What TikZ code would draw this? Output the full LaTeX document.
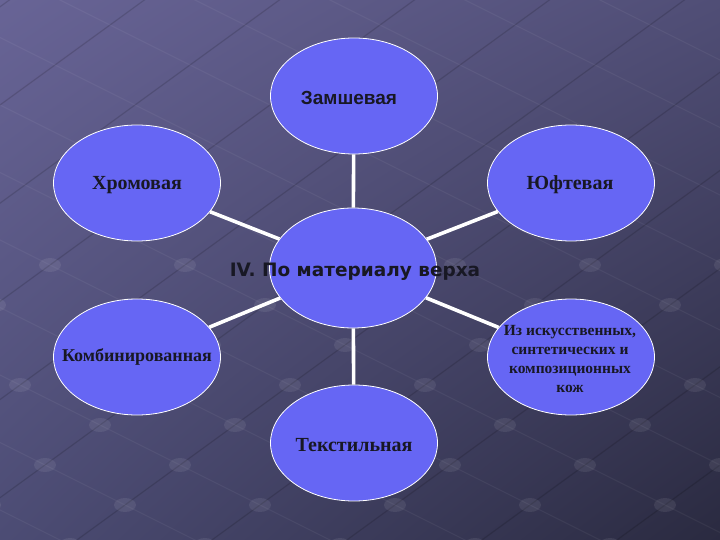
\documentclass[tikz,border=0pt]{standalone}
\usepackage{fontspec}
\setmainfont{Liberation Serif}
\setsansfont{Liberation Sans}
\newfontfamily\roundfont{DejaVu Sans}
\usetikzlibrary{shapes.geometric, shadings}

\pgfdeclarelayer{edges}
\pgfsetlayers{edges,main}

\definecolor{bubblefill}{RGB}{102,102,244}
\definecolor{inkdark}{RGB}{24,24,36}
\definecolor{bgUL}{RGB}{104,100,150}
\definecolor{bgUR}{RGB}{80,78,118}
\definecolor{bgLL}{RGB}{76,76,116}
\definecolor{bgLR}{RGB}{42,42,64}

\begin{document}
\begin{tikzpicture}[x=1pt, y=-1pt,
    bubble/.style={ellipse, draw=white, line width=0.8pt, fill=bubblefill,
        minimum width=167pt, minimum height=116pt, inner sep=0},
    serifbold/.style={font=\bfseries\fontsize{20}{23}\selectfont, text=inkdark},
    sansbold/.style={font=\sffamily\bfseries\fontsize{19}{22}\selectfont, text=inkdark},
    link/.style={draw=white, line width=3.6pt}
]

\useasboundingbox (0,0) rectangle (720,540);

% background with the lattice
\begin{pgfonlayer}{edges}
\shade[upper left=bgUL, upper right=bgUR, lower left=bgLL, lower right=bgLR]
    (0,0) rectangle (720,540);
\begin{scope}
\clip (0,0) rectangle (720,540);
\foreach \j in {-4,...,12}{
    \draw[white, opacity=0.05, line width=1pt]
        ({100-7*80+\j*55}, {425-7*40-\j*40}) -- ({100+7*80+\j*55}, {425+7*40-\j*40});
}
\foreach \i in {-7,...,7}{
    \draw[black, opacity=0.14, line width=1.2pt]
        ({100+\i*80-4*55}, {425+\i*40+4*40}) -- ({100+\i*80+12*55}, {425+\i*40-12*40});
}
\foreach \i in {-7,...,7}{
    \foreach \j in {-4,...,12}{
        \pgfmathsetmacro\by{425+\i*40-\j*40}
        \ifdim\by pt>230pt
            \fill[white, opacity=0.08] ({100+\i*80+\j*55}, \by) ellipse (11 and 7);
        \fi
    }
}
\end{scope}
\end{pgfonlayer}

% ellipses
\node[bubble] (suede) at (354,96) {};
\node[bubble] (chrome) at (137,183) {};
\node[bubble] (yuft) at (571,183) {};
\node[bubble, minimum height=120pt] (material) at (353,268) {};
\node[bubble] (combined) at (137,357) {};
\node[bubble] (artificial) at (571,357) {};
\node[bubble] (textile) at (354,443) {};

% texts
\node[sansbold] (suedetext) at (349,98) {Замшевая};
\node[serifbold] (chrometext) at (137,185) {Хромовая};
\node[serifbold] (yufttext) at (570,185) {Юфтевая};
\node[font=\roundfont\bfseries\fontsize{18.5}{21}\selectfont, text=inkdark] (materialtext) at (355,272)
    {IV. По материалу верха};
\node[font=\bfseries\fontsize{18}{21}\selectfont, text=inkdark] (combinedtext) at (137,357)
    {Комбинированная};
\node[font=\bfseries\fontsize{15.5}{19.3}\selectfont, text=inkdark, align=center] (artificialtext)
    at (570,359) {Из искусственных,\\синтетических и\\композиционных\\кож};
\node[serifbold] (textiletext) at (354,445) {Текстильная};

% connectors
\begin{pgfonlayer}{edges}
\foreach \other in {suede, chrome, yuft, combined, artificial, textile}{
    \draw[link] (material) -- (\other);
}
\end{pgfonlayer}

\end{tikzpicture}
\end{document}
